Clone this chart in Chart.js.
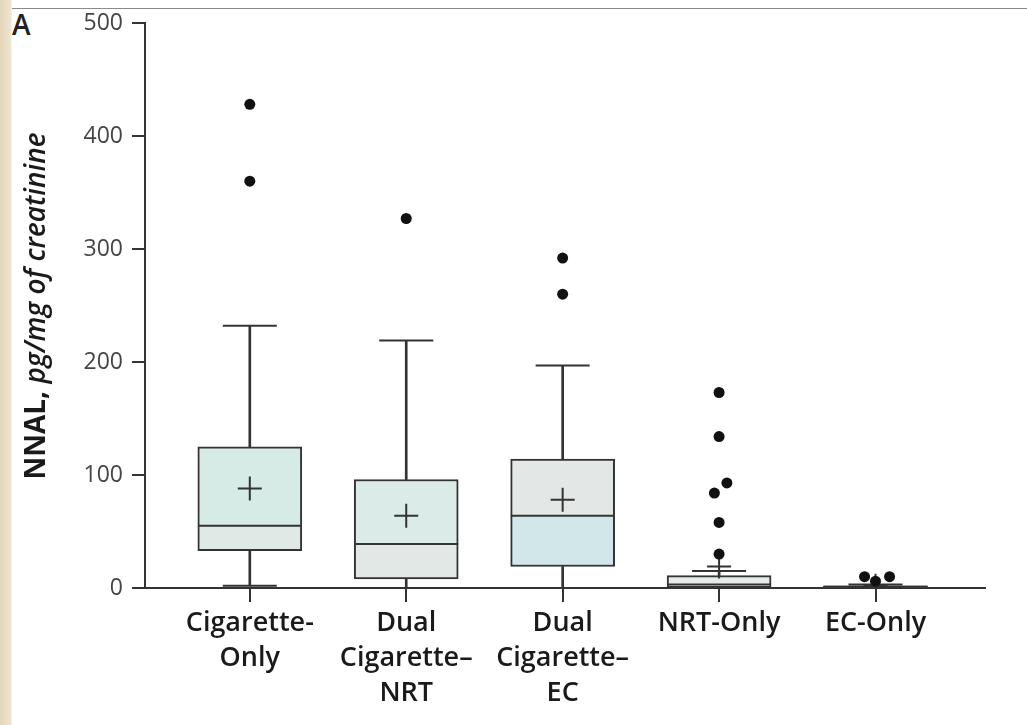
<!DOCTYPE html>
<html>
<head>
<meta charset="utf-8">
<script src="https://cdn.jsdelivr.net/npm/chart.js@4"></script>
<style>
  html, body { margin: 0; padding: 0; }
  body {
    width: 1027px; height: 725px; position: relative; overflow: hidden;
    background: linear-gradient(to right, #e4d5b9 0px, #efe5d3 11px, #ffffff 12px);
  }
  #topline { position: absolute; left: 12px; right: 0; top: 8px; height: 1px; background: #8a8a8a; }
  #panel { position: absolute; left: 12px; top: 8px; font: 600 28px "Open Sans", sans-serif; color: #222; line-height: 32px; }
  #chart { position: absolute; left: 0; top: 0; }
</style>
</head>
<body>
<div id="topline"></div>
<div id="panel">A</div>
<canvas id="chart" width="1027" height="725"></canvas>
<script>
// groups
var labels = [["Cigarette-", "Only"], ["Dual", "Cigarette–", "NRT"], ["Dual", "Cigarette–", "EC"], ["NRT-Only"], ["EC-Only"]];
var yTicks = [0, 100, 200, 300, 400, 500];

// box plot values
var whiskerLow = [2, 0, 0, 0, 0];
var q1 = [33, 8, 19, 1, 0];
var median = [55, 39, 64, 3, 1];
var q3 = [125, 96, 114, 11, 2];
var whiskerHigh = [232, 219, 197, 15, 3];
var mean = [88, 64, 78, 19, 2];

// outliers (x = group index, small offsets where the dots sit side by side)
var outlierX = [0, 0, 1, 2, 2, 3, 3, 3.05, 2.97, 3, 3, 3.93, 4, 4.09];
var outlierY = [428, 360, 327, 292, 260, 173, 134, 93, 84, 58, 30, 10, 6, 10];

var lowerFill = ["#dfe9e6", "#e1e8e6", "#d2e7ea", "#e6ebea", "#e6ebea"];
var upperFill = ["#d7ebe6", "#dbebe7", "#e3e7e6", "#e6ebea", "#e6ebea"];

var idx = labels.map(function(l, i){ return i; });
var ink = "#333333";

var lowerBox = idx.map(function(i){ return {x: i, y: [q1[i], median[i]]}; });
var upperBox = idx.map(function(i){ return {x: i, y: [median[i], q3[i]]}; });
var lowWhisk = idx.map(function(i){ return {x: i, y: [whiskerLow[i], q1[i]]}; });
var highWhisk = idx.map(function(i){ return {x: i, y: [q3[i], whiskerHigh[i]]}; });
var caps = [];
idx.forEach(function(i){
  caps.push({x: i, y: whiskerLow[i]});
  caps.push({x: i, y: whiskerHigh[i]});
});
var medians = idx.map(function(i){ return {x: i, y: median[i]}; });
var means = idx.map(function(i){ return {x: i, y: mean[i]}; });
var outliers = outlierX.map(function(x, k){ return {x: x, y: outlierY[k]}; });

// y axis title with mixed upright/italic text
var yTitle = {
  id: "yTitle",
  afterDraw: function(chart){
    var ctx = chart.ctx;
    var a = "NNAL, ", b = "pg/mg of creatinine";
    var fa = "bold 28px 'Open Sans', sans-serif";
    var fb = "italic 600 28px 'Open Sans', sans-serif";
    ctx.save();
    ctx.font = fa; var wa = ctx.measureText(a).width;
    ctx.font = fb; var wb = ctx.measureText(b).width;
    ctx.translate(45, 306);
    ctx.rotate(-Math.PI / 2);
    ctx.fillStyle = "#1a1a1a";
    ctx.textBaseline = "alphabetic";
    var start = -(wa + wb) / 2;
    ctx.font = fa; ctx.fillText(a, start, 0);
    ctx.font = fb; ctx.fillText(b, start + wa, 0);
    ctx.restore();
  }
};

new Chart(document.getElementById("chart"), {
  type: "bar",
  data: {
    datasets: [
      {type: "scatter", data: outliers, pointStyle: "circle", radius: 5.5, backgroundColor: "#111", borderColor: "#111", borderWidth: 0, order: 1},
      {type: "scatter", data: means, pointStyle: "cross", radius: 12, borderColor: ink, borderWidth: 2, order: 2},
      {type: "scatter", data: caps, pointStyle: "line", radius: 27, borderColor: ink, borderWidth: 2, order: 3},
      {type: "scatter", data: medians, pointStyle: "line", radius: 52, borderColor: ink, borderWidth: 2, order: 3},
      {data: upperBox, backgroundColor: upperFill, borderColor: ink, borderWidth: {top: 2, bottom: 0, left: 2, right: 2}, borderSkipped: false, barThickness: 104, grouped: false, order: 4},
      {data: lowerBox, backgroundColor: lowerFill, borderColor: ink, borderWidth: {top: 0, bottom: 2, left: 2, right: 2}, borderSkipped: false, barThickness: 104, grouped: false, order: 5},
      {data: highWhisk, backgroundColor: ink, borderWidth: 0, barThickness: 2, grouped: false, order: 6},
      {data: lowWhisk, backgroundColor: ink, borderWidth: 0, barThickness: 2, grouped: false, order: 7}
    ]
  },
  options: {
    responsive: false,
    animation: false,
    events: [],
    layout: {autoPadding: false, padding: {top: 23, right: 42, left: 0, bottom: 0}},
    plugins: {legend: {display: false}, tooltip: {enabled: false}},
    scales: {
      x: {
        type: "linear",
        offset: false,
        min: -0.67,
        max: 4.7,
        afterBuildTicks: function(scale){ scale.ticks = idx.map(function(i){ return {value: i}; }); },
        afterFit: function(scale){ scale.height = 137; scale.paddingLeft = 0; scale.paddingRight = 0; },
        ticks: {
          callback: function(v){ return labels[v]; },
          color: "#1a1a1a",
          font: {family: "'Open Sans', sans-serif", size: 27, weight: "600", lineHeight: 1.3},
          maxRotation: 0,
          autoSkip: false,
          padding: 4
        },
        grid: {drawOnChartArea: false, offset: false, color: ink, tickLength: 14, lineWidth: 2},
        border: {color: ink, width: 2}
      },
      y: {
        min: 0,
        max: 500,
        afterBuildTicks: function(scale){ scale.ticks = yTicks.map(function(v){ return {value: v}; }); },
        afterFit: function(scale){ scale.width = 145; scale.paddingTop = 0; scale.paddingBottom = 0; },
        ticks: {
          color: "#454545",
          font: {family: "'Open Sans', sans-serif", size: 23},
          padding: 9
        },
        grid: {drawOnChartArea: false, color: ink, tickLength: 13, lineWidth: 2},
        border: {color: ink, width: 2}
      }
    }
  },
  plugins: [yTitle]
});
</script>
</body>
</html>
